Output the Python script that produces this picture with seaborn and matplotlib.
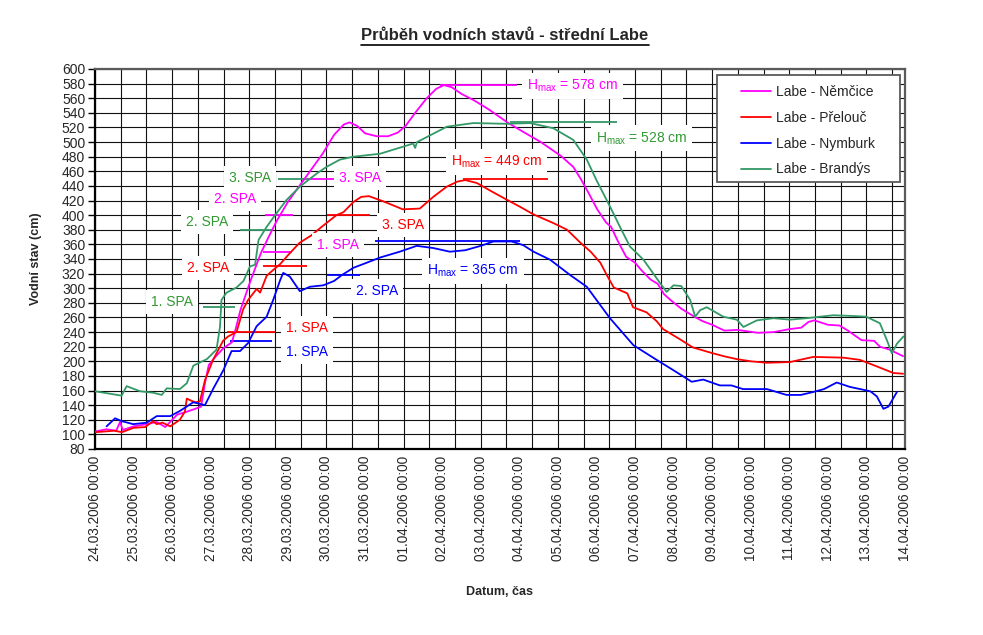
import numpy as np
import pandas as pd
import matplotlib
matplotlib.use("Agg")
import matplotlib.pyplot as plt
from matplotlib.lines import Line2D
from matplotlib.patches import Rectangle
from matplotlib import font_manager as fm
import seaborn as sns

# ---------------- data (days since 24.03.2006 00:00, water level in cm) ----------------
stations = ["Labe - Němčice", "Labe - Přelouč", "Labe - Nymburk", "Labe - Brandýs"]

nemcice_d = [0, 0.3, 0.55, 0.65, 0.72, 1.0, 1.35, 1.6, 1.82, 2.13, 2.38, 2.6, 2.75, 2.85, 2.95,
             3.12, 3.33, 3.55, 3.65, 3.77, 3.9, 4.03, 4.3, 4.5, 4.71, 5.0, 5.3, 5.6, 5.9, 6.2,
             6.45, 6.6, 6.8, 7.0, 7.3, 7.6, 7.85, 8.05, 8.3, 8.6, 8.85, 9.05, 9.25, 9.5, 9.83,
             10.2, 10.69, 11.1, 11.56, 12.08, 12.4, 12.6, 12.8, 13.02, 13.25, 13.38, 13.55, 13.77,
             14.0, 14.16, 14.4, 14.59, 14.75, 14.94, 15.2, 15.54, 15.75, 16.0, 16.32, 16.65, 17.19,
             17.6, 18.0, 18.31, 18.5, 18.65, 19.0, 19.3, 19.52, 19.87, 20.2, 20.35, 20.6, 20.95]
nemcice_v = [104, 107, 105, 117, 106, 111, 114, 117, 110, 127, 131, 135, 138, 170, 195,
             206, 218, 226, 245, 270, 290, 310, 348, 370, 392, 418, 440, 462, 484, 510,
             524, 527, 522, 512, 508, 508, 513, 522, 540, 560, 573, 578, 575, 566, 557,
             545, 527, 514, 500, 481, 466, 449, 430, 408, 390, 384, 365, 343,
             335, 325, 312, 306, 292, 283, 272, 261, 255, 250, 242, 243, 239,
             240, 244, 246, 254, 256, 250, 249, 242, 229, 228, 220, 216, 207]

prelouc_d = [0, 0.5, 0.7, 1.0, 1.3, 1.5, 1.6, 1.75, 1.95, 2.2, 2.33, 2.38, 2.5, 2.6, 2.72, 2.85,
             3.06, 3.32, 3.45, 3.67, 3.84, 3.97, 4.19, 4.28, 4.45, 4.62, 4.8, 5.0, 5.3, 5.6,
             5.9, 6.26, 6.44, 6.7, 6.9, 7.1, 7.47, 7.98, 8.42, 8.77, 9.12, 9.4, 9.6, 9.9, 10.3,
             10.68, 11.0, 11.37, 11.89, 12.24, 12.59, 12.85, 13.1, 13.28, 13.45, 13.8, 13.95,
             14.3, 14.56, 14.73, 15.17, 15.5, 15.95, 16.3, 16.64, 17.0, 17.42, 18.02, 18.62,
             19.4, 19.83, 20.27, 20.7, 20.95]
prelouc_v = [103, 105, 103, 109, 110, 118, 114, 116, 111, 120, 131, 149, 146, 144, 145, 174,
             202, 228, 234, 240, 271, 284, 299, 294, 317, 325, 333, 345, 362, 372,
             385, 400, 404, 418, 425, 426, 419, 408, 409, 425, 439, 446, 448, 444, 432,
             421, 412, 401, 389, 380, 362, 350, 335, 317, 301, 293, 274,
             267, 255, 244, 230, 219, 212, 207, 203, 200, 198, 199, 206,
             205, 202, 193, 184, 183]

nymburk_d = [0.3, 0.52, 0.7, 0.99, 1.34, 1.6, 1.95, 2.2, 2.55, 2.85, 3.07, 3.33, 3.54, 3.76,
             3.97, 4.19, 4.45, 4.62, 4.8, 4.88, 5.05, 5.31, 5.57, 5.92, 6.2, 6.4, 6.7, 7.0,
             7.39, 7.9, 8.34, 8.77, 9.2, 9.6, 10.0, 10.33, 10.8, 11.1, 11.37, 11.8, 12.32,
             12.75, 13.35, 13.96, 14.56, 14.99, 15.47, 15.77, 16.2, 16.5, 16.8, 17.42, 17.93,
             18.3, 18.62, 18.9, 19.23, 19.57, 20.1, 20.27, 20.44, 20.57, 20.79]
nymburk_v = [111, 122, 118, 114, 116, 125, 125, 132, 144, 140, 163, 188, 214, 214,
             225, 248, 261, 284, 311, 321, 316, 296, 302, 304, 310, 318, 328, 334,
             342, 350, 358, 355, 350, 352, 358, 364, 364, 359, 350, 339, 318,
             302, 259, 222, 202, 188, 172, 175, 167, 167, 162, 162, 154,
             154, 158, 162, 171, 165, 159, 152, 135, 138, 158]

brandys_d = [0, 0.69, 0.82, 1.17, 1.51, 1.73, 1.86, 2.2, 2.38, 2.55, 2.9, 3.15, 3.24, 3.28,
             3.41, 3.67, 3.85, 4.02, 4.15, 4.24, 4.45, 4.71, 4.97, 5.31, 5.75, 6.0, 6.35, 6.7,
             7.39, 8.25, 8.3, 8.35, 9.12, 9.81, 10.67, 11.28, 11.88, 12.4, 12.75, 13.0, 13.35,
             13.61, 13.87, 14.22, 14.65, 14.82, 15.0, 15.2, 15.43, 15.56, 15.69, 15.86, 16.29,
             16.64, 16.81, 17.16, 17.59, 18.02, 18.45, 19.14, 19.66, 20.0, 20.35, 20.53, 20.66,
             20.79, 20.96]
brandys_v = [159, 153, 166, 159, 157, 154, 163, 162, 170, 194, 203, 216, 247, 284,
             294, 301, 310, 330, 332, 366, 384, 403, 421, 439, 457, 466, 476, 480,
             484, 498, 492, 500, 521, 526, 525, 526, 519, 503, 476, 448, 412,
             384, 357, 339, 307, 295, 304, 303, 284, 261, 270, 274, 261,
             257, 247, 256, 259, 257, 259, 263, 262, 261, 252, 229, 211,
             224, 234]

# flood-activity levels (SPA) and maxima, cm
nemcice_spa = [350, 400, 450]
prelouc_spa = [240, 330, 400]
nymburk_spa = [228, 318]
brandys_spa = [275, 380, 450]
hmax = [578, 449, 365, 528]

colors = ["#FF00FF", "#FF0000", "#0000FF", "#339966"]
text_colors = ["#FF00FF", "#FF0000", "#0000FF", "#339933"]

# ---------------- style ----------------
sns.set_style("white")
plt.rcParams["font.family"] = ["Liberation Sans", "DejaVu Sans"]
plt.rcParams["mathtext.fontset"] = "custom"
plt.rcParams["mathtext.rm"] = "Liberation Sans"
names = {f.name for f in fm.fontManager.ttflist}
title_family = "Liberation Sans Narrow" if "Liberation Sans Narrow" in names else "Liberation Sans"

fig = plt.figure(figsize=(9.83, 6.35), dpi=100)
ax = fig.add_axes([95 / 983, 1 - 449 / 635, 810 / 983, 380 / 635])

frames = []
for name, d, v in zip(stations,
                      [nemcice_d, prelouc_d, nymburk_d, brandys_d],
                      [nemcice_v, prelouc_v, nymburk_v, brandys_v]):
    frames.append(pd.DataFrame({"den": d, "stav": v, "stanice": name}))
df = pd.concat(frames, ignore_index=True)
palette = dict(zip(stations, colors))

sns.lineplot(data=df, x="den", y="stav", hue="stanice", palette=palette,
             estimator=None, sort=False, lw=1.3, ax=ax, legend=False, zorder=3)

# ---------------- SPA / Hmax marker segments and labels ----------------
# (station index, level, segment start, segment end, label text, label x, label y)
marks = [
    (3, brandys_spa[0], 2.80, 3.63, "1. SPA", 2.00, 281),
    (3, brandys_spa[1], 3.76, 4.62, "2. SPA", 2.90, 391),
    (3, brandys_spa[2], 4.74, 5.50, "3. SPA", 4.02, 451),
    (0, nemcice_spa[0], 4.36, 5.11, "1. SPA", 6.30, 359),
    (0, nemcice_spa[1], 4.41, 5.13, "2. SPA", 3.63, 422),
    (0, nemcice_spa[2], 5.50, 6.27, "3. SPA", 6.87, 451),
    (1, prelouc_spa[0], 3.42, 4.67, "1. SPA", 5.50, 246),
    (1, prelouc_spa[1], 4.36, 5.50, "2. SPA", 2.93, 328),
    (1, prelouc_spa[2], 6.02, 7.13, "3. SPA", 7.99, 387),
    (2, nymburk_spa[0], 3.50, 4.59, "1. SPA", 5.50, 213),
    (2, nymburk_spa[1], 6.02, 6.87, "2. SPA", 7.31, 296),
    (0, hmax[0], 8.94, 10.94, None, 12.39, 577),
    (1, hmax[1], 9.54, 11.74, None, 10.42, 473),
    (2, hmax[2], 7.26, 11.02, None, 9.80, 324),
    (3, hmax[3], 10.76, 13.53, None, 14.18, 505),
]
for si, lev, x0, x1, txt, tx, ty in marks:
    ax.plot([x0, x1], [lev, lev], color=colors[si], lw=1.3, zorder=2.5, solid_capstyle="butt")
    if txt is None:
        txt = r"H$_{\mathrm{max}}$ = %d cm" % lev
    ax.text(tx, ty, txt, color=text_colors[si], fontsize=10, ha="center", va="center",
            zorder=5, bbox=dict(boxstyle="square,pad=0.35", fc="white", ec="none"))

# ---------------- axes ----------------
ax.set_xlim(0, 21)
ax.set_ylim(80, 600)
ax.xaxis.remove_overlapping_locs = False
ax.set_xticks(np.arange(0, 21, 2 / 3))
ax.set_xticks(np.arange(0, 22), minor=True)
dates = pd.date_range("2006-03-24", "2006-04-14", freq="D")
ax.set_xticklabels([dt.strftime("%d.%m.%Y %H:%M") for dt in dates], minor=True)
ax.set_yticks(np.arange(80, 601, 20))
ax.tick_params(axis="x", which="major", direction="inout", length=7, width=1,
               labelbottom=False, color="black")
ax.tick_params(axis="x", which="minor", length=0, labelrotation=90, labelsize=9.8, pad=5)
ax.tick_params(axis="y", which="major", direction="out", length=5, width=1,
               labelsize=10, pad=2, color="black", left=True)
for lab in ax.get_xticklabels(minor=True):
    lab.set_verticalalignment("top")
ax.grid(True, which="major", color="#111111", lw=0.8)
ax.grid(False, which="minor")
ax.set_axisbelow(True)
for side in ["left", "bottom"]:
    ax.spines[side].set_color("black")
    ax.spines[side].set_linewidth(1.6)
for side in ["top", "right"]:
    ax.spines[side].set_color("#5a5a5a")
    ax.spines[side].set_linewidth(1.6)

ax.set_xlabel("Datum, čas", fontsize=9, fontweight="bold", labelpad=18)
ax.set_ylabel("Vodní stav (cm)", fontsize=9, fontweight="bold", labelpad=14)

# legend: framed box drawn as a patch, entries placed inside it
ax.add_patch(Rectangle((0.768, 0.7026), 0.2258, 0.2816, transform=ax.transAxes,
                       facecolor="white", edgecolor="#5a5a5a", lw=1.3, zorder=5.5,
                       clip_on=False))
handles = [Line2D([0], [0], color=c, lw=1.3) for c in colors]
leg = ax.legend(handles, stations, loc="upper left", bbox_to_anchor=(0.797, 0.958),
                fontsize=10, frameon=False, borderpad=0, labelspacing=0.85,
                handlelength=2.2, handletextpad=0.35, borderaxespad=0)
leg.set_zorder(6)

title = fig.text(505 / 983, 1 - 35 / 635, "Průběh vodních stavů - střední Labe",
                 ha="center", va="center", fontsize=12, fontweight="bold",
                 family=[title_family, "DejaVu Sans"])
fig.canvas.draw()
bb = title.get_window_extent()
fw, fh = fig.bbox.width, fig.bbox.height
yline = (bb.y0 - 2) / fh
fig.add_artist(Line2D([bb.x0 / fw, bb.x1 / fw], [yline, yline], color="black", lw=1.2))

fig.savefig("out.png", dpi=100, facecolor="white")
